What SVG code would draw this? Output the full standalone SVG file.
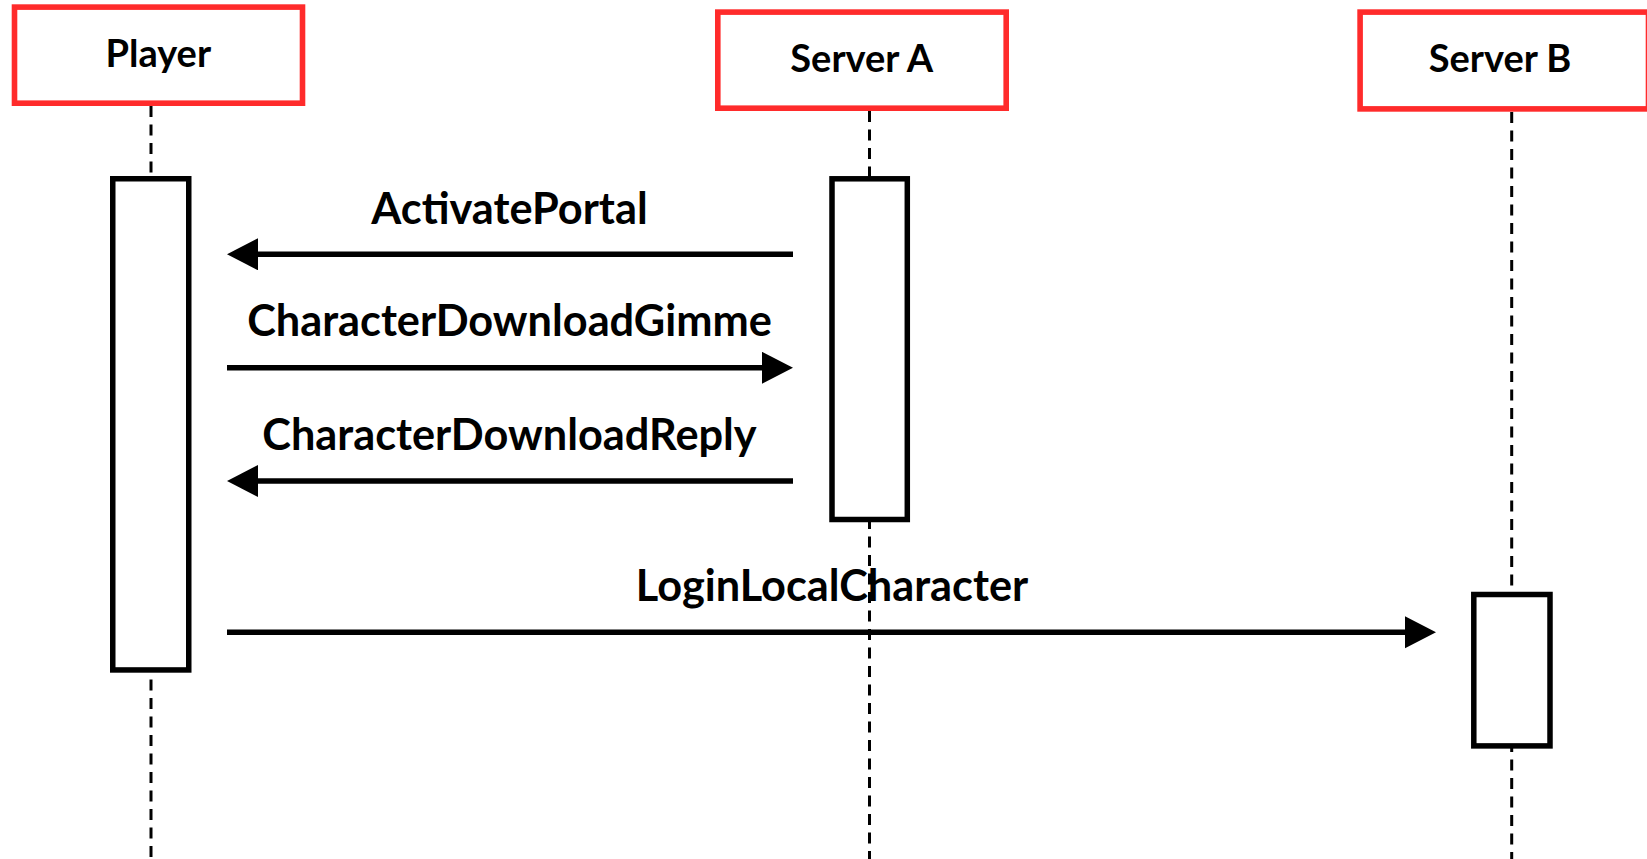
<svg xmlns="http://www.w3.org/2000/svg" width="1647" height="859" viewBox="0 0 1647 859">
<style>
  .head { fill: #ffffff; stroke: #ff2b2b; stroke-width: 5.6; }
  .act { fill: #ffffff; stroke: #000000; stroke-width: 5.5; }
  .life { stroke: #000000; stroke-width: 3; stroke-dasharray: 11 7.5; fill: none; }
  .msg { stroke: #000000; stroke-width: 5.5; fill: none; marker-end: url(#arrow); }
  .t { font-family: Lato, "Liberation Sans", sans-serif; font-weight: 700; font-size: 38px; fill: #000000; text-anchor: middle; }
  .m { font-size: 43.3px; }
</style>
<defs>
  <marker id="arrow" markerUnits="userSpaceOnUse" markerWidth="34" markerHeight="34" refX="2" refY="16" orient="auto">
    <path d="M0,0 L31,16 L0,32 z" fill="#000000"/>
  </marker>
</defs>
<rect width="1647" height="859" fill="#ffffff"/>
<g id="lifelines">
  <line class="life" x1="151" y1="106" x2="151" y2="859"/>
  <line class="life" x1="869.5" y1="111" x2="869.5" y2="859"/>
  <line class="life" x1="1511.7" y1="112" x2="1511.7" y2="859"/>
</g>
<g id="player">
  <rect class="head" x="14.5" y="7.1" width="288" height="96.1"/>
  <text class="t" x="158.3" y="66.7">Player</text>
  <rect class="act" x="112.75" y="178.75" width="76" height="491.2"/>
</g>
<g id="serverA">
  <rect class="head" x="717.8" y="12.1" width="288.4" height="96.1"/>
  <text class="t" x="861.7" y="71.7">Server A</text>
  <rect class="act" x="832" y="178.8" width="75.3" height="340.7"/>
</g>
<g id="serverB">
  <rect class="head" x="1360.1" y="12.1" width="288.4" height="96.8"/>
  <text class="t" x="1500" y="71.7">Server B</text>
  <rect class="act" x="1473.8" y="594.5" width="76.2" height="151.4"/>
</g>
<g id="connectors">
  <line class="msg" x1="793" y1="254.3" x2="256" y2="254.3"/>
  <text class="t m" x="509.5" y="223.5">ActivatePortal</text>
  <line class="msg" x1="227" y1="367.8" x2="764" y2="367.8"/>
  <text class="t m" x="509.5" y="336">CharacterDownloadGimme</text>
  <line class="msg" x1="793" y1="481" x2="256" y2="481"/>
  <text class="t m" x="509.5" y="449.5">CharacterDownloadReply</text>
  <line class="msg" x1="227" y1="632.3" x2="1407" y2="632.3"/>
  <text class="t m" x="832" y="601">LoginLocalCharacter</text>
</g>
</svg>
